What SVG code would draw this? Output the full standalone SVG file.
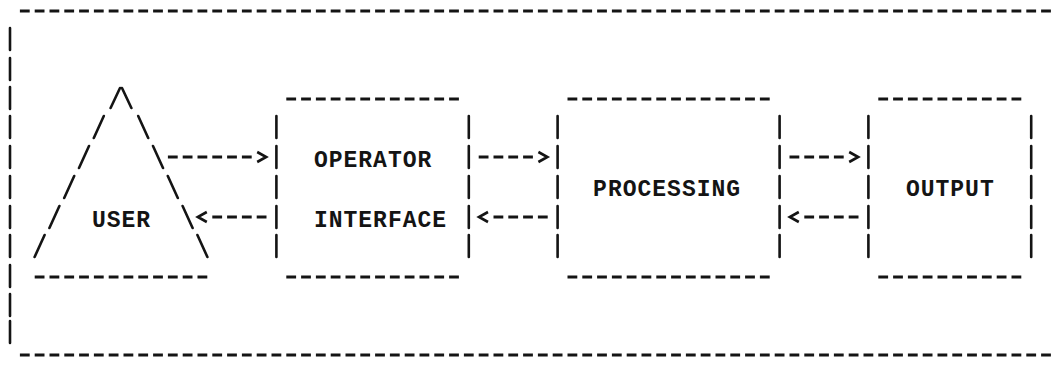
<svg xmlns="http://www.w3.org/2000/svg" width="1054" height="366" viewBox="0 0 1054 366">
<style>
.h{fill:none;stroke:#141414;stroke-width:3;stroke-dasharray:9.8 5}
.v{fill:none;stroke:#141414;stroke-width:2.6;stroke-linecap:round}
.s{fill:none;stroke:#141414;stroke-width:2.6;stroke-linecap:round}
.t{font-family:"Liberation Mono","DejaVu Sans Mono",monospace;font-size:23px;font-weight:bold;fill:#141414;text-anchor:middle}
</style>
<defs>
<marker id="chev" markerUnits="userSpaceOnUse" viewBox="0 -10 20 20" markerWidth="20" markerHeight="20" refX="0" refY="0" orient="auto" overflow="visible">
<path d="M5.5 -5 L14.5 0 L5.5 5" fill="none" stroke="#141414" stroke-width="2.6" stroke-linejoin="miter"/>
</marker>
</defs>
<rect width="1054" height="366" fill="#ffffff"/>
<g id="frame">
<line class="h" x1="19.9" y1="11" x2="1050.9" y2="11"/>
<line class="h" x1="19.9" y1="355" x2="1050.9" y2="355"/>
<path class="v" d="M10 28V50M10 58V80M10 87V109M10 116V138M10 146V168M10 176V198M10 206V228M10 235V257M10 265V287M10 294V316M10 321V343"/>
</g>
<g id="user">
<path class="s" d="M110.6 108L120 88M93.8 138L103.8 116M79 168L89 146M64.2 198L74.2 176M49.4 228L59.4 206M34.6 257L44.6 235"/>
<path class="s" d="M131.4 108L122 88M148.2 138L138.2 116M163 168L153 146M177.8 198L167.8 176M192.6 228L182.6 206M207.4 257L197.4 235"/>
<line class="h" x1="34.7" y1="277" x2="207.3" y2="277"/>
<text class="t" x="98.8 113.6 128.4 143.2" y="227">USER</text>
</g>
<g id="operator-interface">
<line class="h" x1="286.3" y1="99" x2="458.9" y2="99"/>
<line class="h" x1="286.3" y1="277" x2="458.9" y2="277"/>
<path class="v" d="M276.4 116V138M276.4 146V168M276.4 176V198M276.4 206V228M276.4 235V257M468.8 116V138M468.8 146V168M468.8 176V198M468.8 206V228M468.8 235V257"/>
<text class="t" x="320.8 335.6 350.4 365.2 380 394.8 409.6 424.4" y="167">OPERATOR</text>
<text class="t" x="320.8 335.6 350.4 365.2 380 394.8 409.6 424.4 439.2" y="227">INTERFACE</text>
</g>
<g id="processing">
<line class="h" x1="567.5" y1="99" x2="769.7" y2="99"/>
<line class="h" x1="567.5" y1="277" x2="769.7" y2="277"/>
<path class="v" d="M557.6 116V138M557.6 146V168M557.6 176V198M557.6 206V228M557.6 235V257M779.6 116V138M779.6 146V168M779.6 176V198M779.6 206V228M779.6 235V257"/>
<text class="t" x="600 614.8 629.6 644.4 659.2 674 688.8 703.6 718.4 733.2" y="196">PROCESSING</text>
</g>
<g id="output">
<line class="h" x1="878.3" y1="99" x2="1021.3" y2="99"/>
<line class="h" x1="878.3" y1="277" x2="1021.3" y2="277"/>
<path class="v" d="M868.4 116V138M868.4 146V168M868.4 176V198M868.4 206V228M868.4 235V257M1031.2 116V138M1031.2 146V168M1031.2 176V198M1031.2 206V228M1031.2 235V257"/>
<text class="t" x="912.8 927.6 942.4 957.2 972 986.8" y="196">OUTPUT</text>
</g>
<g id="connectors">
<path class="h" d="M167.9 157H251.7" marker-end="url(#chev)"/>
<path class="h" d="M266.5 217H212.3" marker-end="url(#chev)"/>
<path class="h" d="M478.7 157H532.9" marker-end="url(#chev)"/>
<path class="h" d="M547.7 217H493.5" marker-end="url(#chev)"/>
<path class="h" d="M789.5 157H843.7" marker-end="url(#chev)"/>
<path class="h" d="M858.5 217H804.3" marker-end="url(#chev)"/>
</g>
</svg>
